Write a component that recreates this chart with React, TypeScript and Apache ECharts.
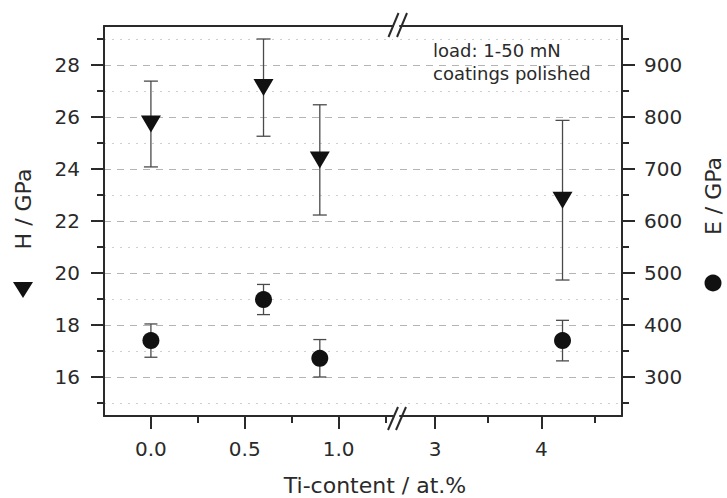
import React, { useEffect, useRef } from "react";
import * as echarts from "echarts";

// ---- data ----
const tiContent = [0.0, 0.6, 0.9, 4.2];
const hardness = [25.73, 27.13, 24.35, 22.8];
const hardnessErr = [1.65, 1.87, 2.12, 3.07];
const modulus = [370, 449, 336, 370];
const modulusErr = [32, 29, 36, 39];

const xMajorLeft = [0, 0.5, 1.0];
const xMinorLeft = [0.25, 0.75, 1.25];
const xMajorRight = [3, 4];
const xMinorRight = [3.5, 4.5];
const hMajor = [16, 18, 20, 22, 24, 26, 28];
const hMinor = [15, 17, 19, 21, 23, 25, 27, 29];
const eMajor = [300, 400, 500, 600, 700, 800, 900];
const eMinor = [250, 350, 450, 550, 650, 750, 850, 950];

const FONT = '"DejaVu Sans", "Liberation Sans", Arial, sans-serif';
const TXT = "#2a2a2a";
const AX = "#2a2a2a";
const MARK = "#111111";

export default function App() {
  const ref = useRef<HTMLDivElement>(null);
  useEffect(() => {
    if (!ref.current) return;
    const chart = echarts.init(ref.current, undefined, { renderer: "svg" });

    const leftIdx = tiContent.map((x, i) => i).filter((i) => tiContent[i] < 2);
    const rightIdx = tiContent.map((x, i) => i).filter((i) => tiContent[i] >= 2);
    const hPts = (idx: number[]) => idx.map((i) => [tiContent[i], hardness[i]]);
    const ePts = (idx: number[]) => idx.map((i) => [tiContent[i], modulus[i]]);
    const hErr = (idx: number[]) =>
      idx.map((i) => [tiContent[i], hardness[i], hardness[i] - hardnessErr[i], hardness[i] + hardnessErr[i]]);
    const eErr = (idx: number[]) =>
      idx.map((i) => [tiContent[i], modulus[i], modulus[i] - modulusErr[i], modulus[i] + modulusErr[i]]);

    const errRender = (cap: number) => (params: any, api: any) => {
      const x = api.value(0);
      const lo = api.coord([x, api.value(2)]);
      const hi = api.coord([x, api.value(3)]);
      const st = { stroke: "#4a4a4a", lineWidth: 1.3 };
      return {
        type: "group",
        children: [
          { type: "line", shape: { x1: lo[0], y1: lo[1], x2: hi[0], y2: hi[1] }, style: st },
          { type: "line", shape: { x1: lo[0] - cap, y1: lo[1], x2: lo[0] + cap, y2: lo[1] }, style: st },
          { type: "line", shape: { x1: hi[0] - cap, y1: hi[1], x2: hi[0] + cap, y2: hi[1] }, style: st },
        ],
      };
    };

    const lineSt = { show: true, onZero: false, lineStyle: { color: AX, width: 2 } };
    const tickSt = (vals: number[], len: number) => ({
      show: true,
      inside: false,
      length: len,
      customValues: vals,
      lineStyle: { color: AX, width: 2 },
    });
    const labelSt = (vals: number[], margin: number, fmt: (v: number) => string) => ({
      show: true,
      customValues: vals,
      margin,
      color: TXT,
      fontSize: 20,
      fontFamily: FONT,
      formatter: (v: number) => fmt(v),
    });
    const noLabel = { show: false };
    const noSplit = { show: false };
    const dashed = { show: true, lineStyle: { color: "#b4b4b4", type: [7, 6], width: 1.2 } };
    const dotted = { show: true, lineStyle: { color: "#cfcfcf", type: [2, 6], width: 1.2 } };

    const L = { min: -0.25, max: 1.29 };
    const R = { min: 2.67, max: 4.76 };
    const H = { min: 14.5, max: 29.5 };
    const E = { min: 225, max: 975 };

    const option: any = {
      animation: false,
      backgroundColor: "#ffffff",
      grid: [
        { left: 104, top: 26, width: 289, height: 390, containLabel: false },
        { left: 400, top: 26, width: 222, height: 390, containLabel: false },
      ],
      xAxis: [
        { type: "value", gridIndex: 0, position: "bottom", ...L, axisLine: lineSt, axisTick: tickSt(xMajorLeft, 13), axisLabel: labelSt(xMajorLeft, 23, (v) => v.toFixed(1)), splitLine: noSplit },
        { type: "value", gridIndex: 0, position: "bottom", ...L, axisLine: { show: false, onZero: false }, axisTick: tickSt(xMinorLeft, 7), axisLabel: noLabel, splitLine: noSplit },
        { type: "value", gridIndex: 0, position: "top", ...L, axisLine: lineSt, axisTick: { show: false }, axisLabel: noLabel, splitLine: noSplit },
        { type: "value", gridIndex: 1, position: "bottom", ...R, axisLine: lineSt, axisTick: tickSt(xMajorRight, 13), axisLabel: labelSt(xMajorRight, 23, (v) => String(v)), splitLine: noSplit },
        { type: "value", gridIndex: 1, position: "bottom", ...R, axisLine: { show: false, onZero: false }, axisTick: tickSt(xMinorRight, 7), axisLabel: noLabel, splitLine: noSplit },
        { type: "value", gridIndex: 1, position: "top", ...R, axisLine: lineSt, axisTick: { show: false }, axisLabel: noLabel, splitLine: noSplit },
      ],
      yAxis: [
        { type: "value", gridIndex: 0, position: "left", ...H, axisLine: lineSt, axisTick: tickSt(hMajor, 13), axisLabel: labelSt(hMajor, 24, (v) => String(v)), splitLine: dashed },
        { type: "value", gridIndex: 0, position: "left", ...H, axisLine: { show: false, onZero: false }, axisTick: tickSt(hMinor, 7), axisLabel: noLabel, splitLine: dotted },
        { type: "value", gridIndex: 0, position: "right", ...E, show: false },
        { type: "value", gridIndex: 1, position: "right", ...E, axisLine: lineSt, axisTick: tickSt(eMajor, 13), axisLabel: labelSt(eMajor, 22, (v) => String(v)), splitLine: dashed },
        { type: "value", gridIndex: 1, position: "right", ...E, axisLine: { show: false, onZero: false }, axisTick: tickSt(eMinor, 7), axisLabel: noLabel, splitLine: dotted },
        { type: "value", gridIndex: 1, position: "left", ...H, show: false },
      ],
      series: [
        { type: "custom", xAxisIndex: 0, yAxisIndex: 0, renderItem: errRender(7), data: hErr(leftIdx), z: 3, silent: true },
        { type: "custom", xAxisIndex: 0, yAxisIndex: 2, renderItem: errRender(6.5), data: eErr(leftIdx), z: 3, silent: true },
        { type: "custom", xAxisIndex: 3, yAxisIndex: 5, renderItem: errRender(7), data: hErr(rightIdx), z: 3, silent: true },
        { type: "custom", xAxisIndex: 3, yAxisIndex: 3, renderItem: errRender(6.5), data: eErr(rightIdx), z: 3, silent: true },
        { type: "scatter", name: "H", xAxisIndex: 0, yAxisIndex: 0, data: hPts(leftIdx), symbol: "triangle", symbolRotate: 180, symbolSize: [20, 17], itemStyle: { color: MARK, opacity: 1 }, z: 5 },
        { type: "scatter", name: "H", xAxisIndex: 3, yAxisIndex: 5, data: hPts(rightIdx), symbol: "triangle", symbolRotate: 180, symbolSize: [20, 17], itemStyle: { color: MARK, opacity: 1 }, z: 5 },
        { type: "scatter", name: "E", xAxisIndex: 0, yAxisIndex: 2, data: ePts(leftIdx), symbol: "circle", symbolSize: 17, itemStyle: { color: MARK, opacity: 1 }, z: 5 },
        { type: "scatter", name: "E", xAxisIndex: 3, yAxisIndex: 3, data: ePts(rightIdx), symbol: "circle", symbolSize: 17, itemStyle: { color: MARK, opacity: 1 }, z: 5 },
      ],
      graphic: [
        { type: "text", x: 23, y: 209, rotation: Math.PI / 2, style: { text: "H / GPa", font: `22px ${FONT}`, fill: TXT, textAlign: "center", textVerticalAlign: "middle" } },
        { type: "polygon", shape: { points: [[13, 282], [33, 282], [23, 298]] }, style: { fill: MARK } },
        { type: "text", x: 713, y: 196, rotation: Math.PI / 2, style: { text: "E / GPa", font: `22px ${FONT}`, fill: TXT, textAlign: "center", textVerticalAlign: "middle" } },
        { type: "circle", shape: { cx: 713, cy: 283, r: 8.5 }, style: { fill: MARK } },
        { type: "text", x: 375, y: 485, style: { text: "Ti-content / at.%", font: `22px ${FONT}`, fill: TXT, textAlign: "center", textVerticalAlign: "middle" } },
        { type: "text", x: 433, y: 50, style: { text: "load: 1-50 mN", font: `18px ${FONT}`, fill: TXT, textAlign: "left", textVerticalAlign: "middle" } },
        { type: "text", x: 433, y: 73, style: { text: "coatings polished", font: `18px ${FONT}`, fill: TXT, textAlign: "left", textVerticalAlign: "middle" } },
        { type: "line", shape: { x1: 388.5, y1: 37, x2: 398.5, y2: 13 }, style: { stroke: AX, lineWidth: 2 } },
        { type: "line", shape: { x1: 397, y1: 37, x2: 407, y2: 13 }, style: { stroke: AX, lineWidth: 2 } },
        { type: "line", shape: { x1: 388, y1: 430, x2: 398, y2: 407 }, style: { stroke: AX, lineWidth: 2 } },
        { type: "line", shape: { x1: 396, y1: 430, x2: 406, y2: 407 }, style: { stroke: AX, lineWidth: 2 } },
      ],
    };
    chart.setOption(option);
    return () => chart.dispose();
  }, []);
  return <div ref={ref} style={{ position: "fixed", left: 0, top: 0, width: 727, height: 498 }} />;
}
